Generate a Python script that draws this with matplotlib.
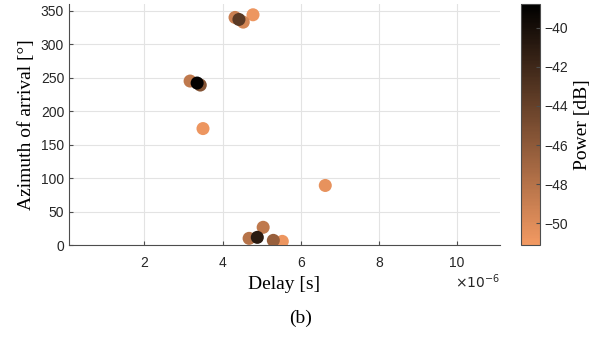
import matplotlib.pyplot as plt
import numpy as np
from matplotlib.colors import ListedColormap
from matplotlib.ticker import FuncFormatter

# delay [s], azimuth [deg], power [dB] of each path
delay = np.array([4.32, 4.42, 4.53, 4.78, 3.17, 3.35, 3.43, 3.50, 6.63,
                  5.04, 4.68, 4.89, 5.30, 5.53]) * 1e-6
azimuth = [340, 337, 333, 344, 245, 242, 239, 174, 89, 26.5, 10, 11.5, 7, 5.5]
power = [-49, -43.5, -49.5, -50.8, -48.5, -39, -45.5, -50.8, -50.5, -48.5,
         -48, -41, -46.5, -50.8]

order = np.argsort(power)  # darker points drawn on top
delay = delay[order]
azimuth = np.array(azimuth)[order]
power = np.array(power)[order]

cmap = ListedColormap(plt.cm.copper(np.linspace(0, 0.77, 256))[::-1])

plt.rcParams['font.family'] = ['Liberation Sans', 'DejaVu Sans']
serif = 'Liberation Serif'

fig = plt.figure(figsize=(6.01, 3.38), dpi=100)
ax = fig.add_axes([0.1148, 0.275, 0.717, 0.713])
cax = fig.add_axes([0.867, 0.275, 0.031, 0.713])

sc = ax.scatter(delay, azimuth, c=power, cmap=cmap, vmin=-51.1, vmax=-38.8,
                s=88, edgecolors='none', zorder=3)

ax.set_xlim(0.07e-6, 11.1e-6)
ax.set_ylim(0, 360)
ax.set_xticks(np.arange(2, 11, 2) * 1e-6)
ax.set_yticks(np.arange(0, 351, 50))
ax.xaxis.set_major_formatter(FuncFormatter(lambda v, p: f'{v * 1e6:g}'))
ax.grid(True, color='#e3e3e3', linewidth=0.8, zorder=0)
ax.set_axisbelow(True)
for s in ['top', 'right']:
    ax.spines[s].set_visible(False)
for s in ['left', 'bottom']:
    ax.spines[s].set_color('#4d4d4d')
ax.tick_params(direction='in', length=3, labelsize=10, colors='#4d4d4d',
               labelcolor='#262626')
ax.tick_params(axis='x', pad=8)
ax.set_xlabel('Delay [s]', fontsize=14, family=serif, labelpad=4)
ax.set_ylabel('Azimuth of arrival [°]', fontsize=14, family=serif, labelpad=4)
ax.text(1.0, -0.152, r'$\times10^{-6}$', transform=ax.transAxes, ha='right',
        va='center', fontsize=10, color='#262626')

cb = fig.colorbar(sc, cax=cax)
cb.set_ticks(np.arange(-50, -39, 2))
cb.ax.tick_params(direction='in', length=3, labelsize=10, colors='#4d4d4d',
                  labelcolor='#262626')
cb.outline.set_edgecolor('#4d4d4d')
cb.set_label('Power [dB]', fontsize=14, family=serif, labelpad=4)

fig.text(0.5, 0.058, '(b)', ha='center', va='center', fontsize=14,
         family=serif)

fig.savefig('out.png', dpi=100)
